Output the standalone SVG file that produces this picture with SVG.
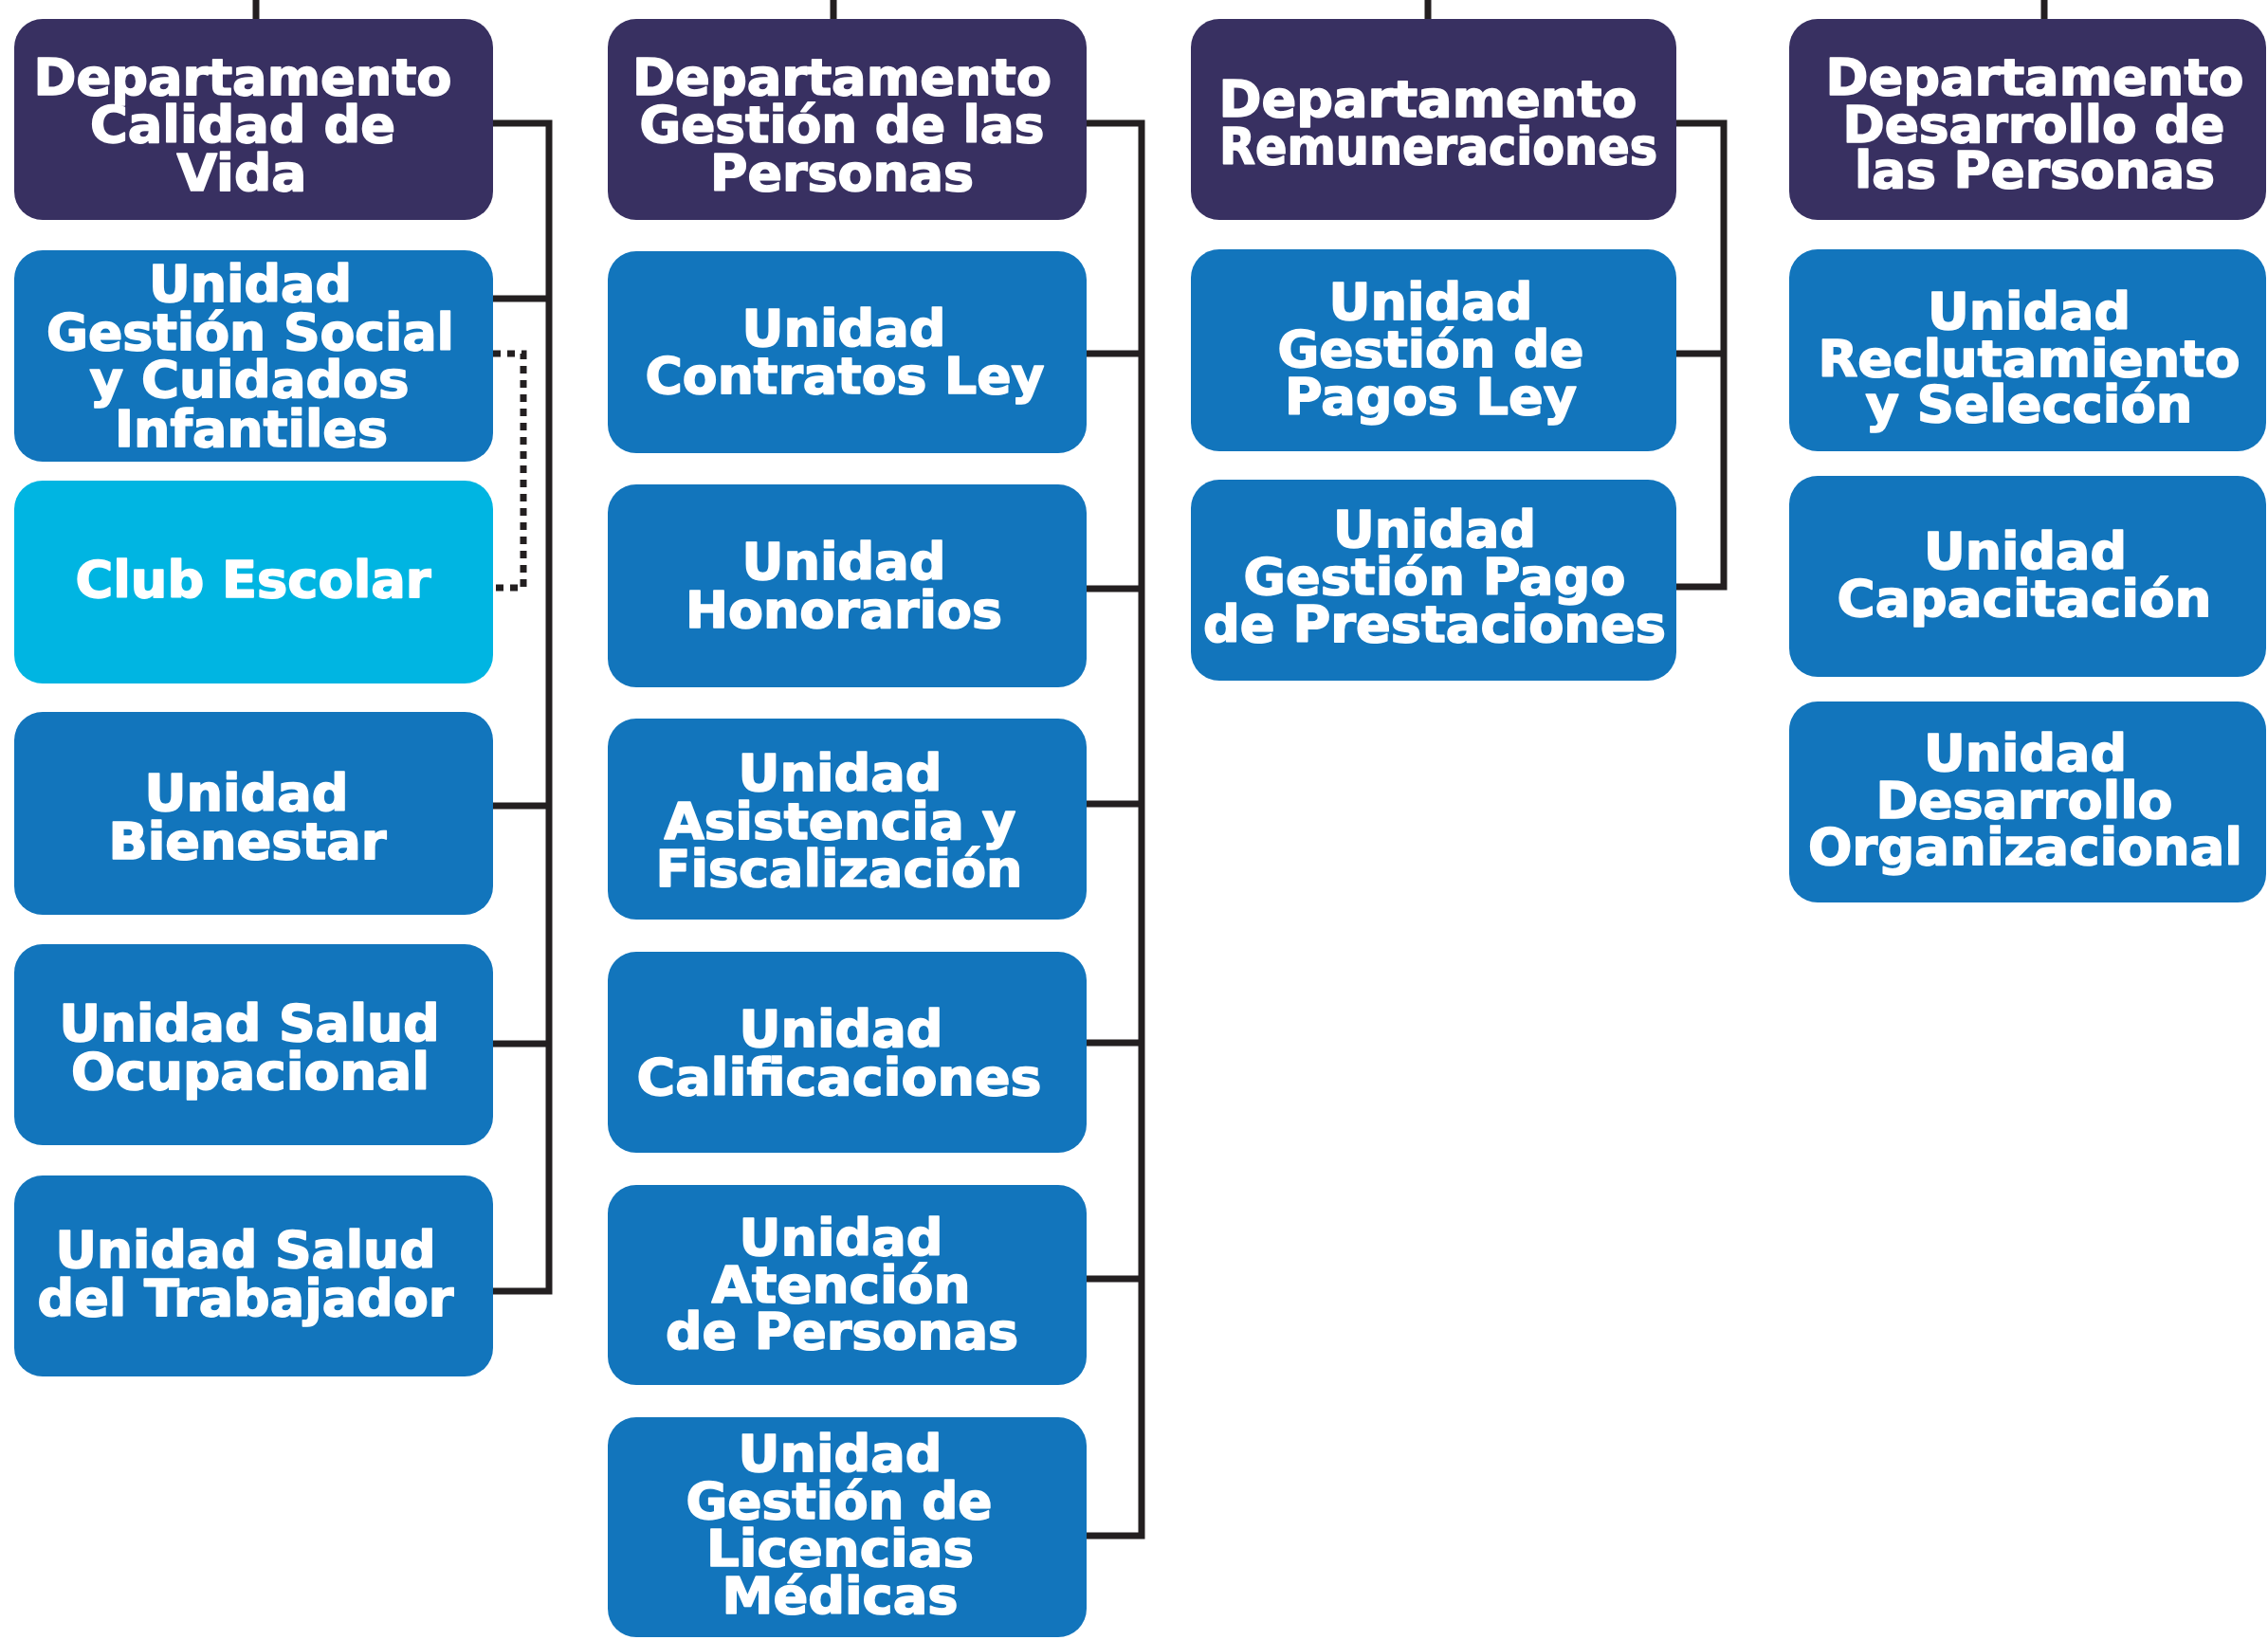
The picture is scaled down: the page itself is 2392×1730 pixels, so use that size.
<svg xmlns="http://www.w3.org/2000/svg" width="2392" height="1730" viewBox="0 0 2392 1730">
<style>
.dept{fill:#383061}
.unit{fill:#1275bc}
.club{fill:#00b5e2}
text{font-family:"DejaVu Sans","Liberation Sans",sans-serif;font-weight:bold;font-size:53px;fill:#ffffff;stroke:#ffffff;stroke-width:1.6;stroke-linejoin:round;text-anchor:middle}
.ln{fill:none;stroke:#231f20;stroke-width:7}
.dot{fill:none;stroke:#231f20;stroke-width:7;stroke-dasharray:8 7}
</style>
<rect width="2392" height="1730" fill="#ffffff"/>
<g id="connectors">
<path class="ln" d="M270,0 V20 M879,0 V20 M1506,0 V20 M2156,0 V20"/>
<path class="ln" d="M520,130 H579 V1362 H520 M520,315 H579 M520,850 H579 M520,1101 H579"/>
<path class="dot" d="M520,373 H552 V620 H520"/>
<path class="ln" d="M1146,130 H1204 V1620 H1146 M1146,373 H1204 M1146,621 H1204 M1146,848 H1204 M1146,1100 H1204 M1146,1349 H1204"/>
<path class="ln" d="M1768,130 H1818 V619 H1768 M1768,373 H1818"/>
</g>
<g id="dept-calidad-vida"><rect class="dept" x="15" y="20" width="505" height="212" rx="30"/>
<text x="256" y="100" textLength="441" lengthAdjust="spacingAndGlyphs">Departamento</text>
<text x="256" y="150" textLength="322" lengthAdjust="spacingAndGlyphs">Calidad de</text>
<text x="255" y="201" textLength="137" lengthAdjust="spacingAndGlyphs">Vida</text></g>
<g id="u-gestion-social"><rect class="unit" x="15" y="264" width="505" height="223" rx="30"/>
<text x="264" y="318" textLength="214" lengthAdjust="spacingAndGlyphs">Unidad</text>
<text x="264" y="369" textLength="430" lengthAdjust="spacingAndGlyphs">Gestión Social</text>
<text x="263" y="419" textLength="337" lengthAdjust="spacingAndGlyphs">y Cuidados</text>
<text x="265" y="471" textLength="288" lengthAdjust="spacingAndGlyphs">Infantiles</text></g>
<g id="club-escolar"><rect class="club" x="15" y="507" width="505" height="214" rx="30"/>
<text x="267" y="630" textLength="375" lengthAdjust="spacingAndGlyphs">Club Escolar</text></g>
<g id="u-bienestar"><rect class="unit" x="15" y="751" width="505" height="214" rx="30"/>
<text x="260" y="855" textLength="215" lengthAdjust="spacingAndGlyphs">Unidad</text>
<text x="261" y="906" textLength="293" lengthAdjust="spacingAndGlyphs">Bienestar</text></g>
<g id="u-salud-ocupacional"><rect class="unit" x="15" y="996" width="505" height="212" rx="30"/>
<text x="263" y="1098" textLength="401" lengthAdjust="spacingAndGlyphs">Unidad Salud</text>
<text x="264" y="1149" textLength="378" lengthAdjust="spacingAndGlyphs">Ocupacional</text></g>
<g id="u-salud-trabajador"><rect class="unit" x="15" y="1240" width="505" height="212" rx="30"/>
<text x="259" y="1337" textLength="401" lengthAdjust="spacingAndGlyphs">Unidad Salud</text>
<text x="259" y="1388" textLength="439" lengthAdjust="spacingAndGlyphs">del Trabajador</text></g>
<g id="dept-gestion-personas"><rect class="dept" x="641" y="20" width="505" height="212" rx="30"/>
<text x="888" y="100" textLength="442" lengthAdjust="spacingAndGlyphs">Departamento</text>
<text x="888" y="150" textLength="427" lengthAdjust="spacingAndGlyphs">Gestión de las</text>
<text x="888" y="201" textLength="278" lengthAdjust="spacingAndGlyphs">Personas</text></g>
<g id="u-contratos-ley"><rect class="unit" x="641" y="265" width="505" height="213" rx="30"/>
<text x="890" y="365" textLength="215" lengthAdjust="spacingAndGlyphs">Unidad</text>
<text x="891" y="415" textLength="421" lengthAdjust="spacingAndGlyphs">Contratos Ley</text></g>
<g id="u-honorarios"><rect class="unit" x="641" y="511" width="505" height="214" rx="30"/>
<text x="890" y="611" textLength="215" lengthAdjust="spacingAndGlyphs">Unidad</text>
<text x="890" y="662" textLength="334" lengthAdjust="spacingAndGlyphs">Honorarios</text></g>
<g id="u-asistencia"><rect class="unit" x="641" y="758" width="505" height="212" rx="30"/>
<text x="886" y="834" textLength="215" lengthAdjust="spacingAndGlyphs">Unidad</text>
<text x="886" y="885" textLength="371" lengthAdjust="spacingAndGlyphs">Asistencia y</text>
<text x="885" y="935" textLength="387" lengthAdjust="spacingAndGlyphs">Fiscalización</text></g>
<g id="u-calificaciones"><rect class="unit" x="641" y="1004" width="505" height="212" rx="30"/>
<text x="887" y="1104" textLength="215" lengthAdjust="spacingAndGlyphs">Unidad</text>
<text x="885" y="1155" textLength="427" lengthAdjust="spacingAndGlyphs">Calificaciones</text></g>
<g id="u-atencion"><rect class="unit" x="641" y="1250" width="505" height="211" rx="30"/>
<text x="887" y="1324" textLength="215" lengthAdjust="spacingAndGlyphs">Unidad</text>
<text x="887" y="1374" textLength="273" lengthAdjust="spacingAndGlyphs">Atención</text>
<text x="888" y="1423" textLength="372" lengthAdjust="spacingAndGlyphs">de Personas</text></g>
<g id="u-licencias"><rect class="unit" x="641" y="1495" width="505" height="232" rx="30"/>
<text x="886" y="1552" textLength="215" lengthAdjust="spacingAndGlyphs">Unidad</text>
<text x="885" y="1602" textLength="323" lengthAdjust="spacingAndGlyphs">Gestión de</text>
<text x="886" y="1652" textLength="282" lengthAdjust="spacingAndGlyphs">Licencias</text>
<text x="886" y="1702" textLength="249" lengthAdjust="spacingAndGlyphs">Médicas</text></g>
<g id="dept-remuneraciones"><rect class="dept" x="1256" y="20" width="512" height="212" rx="30"/>
<text x="1506" y="123" textLength="441" lengthAdjust="spacingAndGlyphs">Departamento</text>
<text x="1517" y="173" textLength="462" lengthAdjust="spacingAndGlyphs">Remuneraciones</text></g>
<g id="u-pagos-ley"><rect class="unit" x="1256" y="263" width="512" height="213" rx="30"/>
<text x="1509" y="337" textLength="215" lengthAdjust="spacingAndGlyphs">Unidad</text>
<text x="1509" y="387" textLength="323" lengthAdjust="spacingAndGlyphs">Gestión de</text>
<text x="1509" y="437" textLength="308" lengthAdjust="spacingAndGlyphs">Pagos Ley</text></g>
<g id="u-pago-prestaciones"><rect class="unit" x="1256" y="506" width="512" height="212" rx="30"/>
<text x="1513" y="577" textLength="214" lengthAdjust="spacingAndGlyphs">Unidad</text>
<text x="1513" y="627" textLength="403" lengthAdjust="spacingAndGlyphs">Gestión Pago</text>
<text x="1513" y="677" textLength="488" lengthAdjust="spacingAndGlyphs">de Prestaciones</text></g>
<g id="dept-desarrollo-personas"><rect class="dept" x="1887" y="20" width="503" height="212" rx="30"/>
<text x="2146" y="100" textLength="441" lengthAdjust="spacingAndGlyphs">Departamento</text>
<text x="2145" y="150" textLength="403" lengthAdjust="spacingAndGlyphs">Desarrollo de</text>
<text x="2146" y="198" textLength="380" lengthAdjust="spacingAndGlyphs">las Personas</text></g>
<g id="u-reclutamiento"><rect class="unit" x="1887" y="263" width="503" height="213" rx="30"/>
<text x="2140" y="347" textLength="214" lengthAdjust="spacingAndGlyphs">Unidad</text>
<text x="2140" y="397" textLength="445" lengthAdjust="spacingAndGlyphs">Reclutamiento</text>
<text x="2140" y="445" textLength="345" lengthAdjust="spacingAndGlyphs">y Selección</text></g>
<g id="u-capacitacion"><rect class="unit" x="1887" y="502" width="503" height="212" rx="30"/>
<text x="2136" y="600" textLength="214" lengthAdjust="spacingAndGlyphs">Unidad</text>
<text x="2135" y="650" textLength="395" lengthAdjust="spacingAndGlyphs">Capacitación</text></g>
<g id="u-desarrollo-org"><rect class="unit" x="1887" y="740" width="503" height="212" rx="30"/>
<text x="2136" y="813" textLength="214" lengthAdjust="spacingAndGlyphs">Unidad</text>
<text x="2135" y="863" textLength="313" lengthAdjust="spacingAndGlyphs">Desarrollo</text>
<text x="2136" y="912" textLength="458" lengthAdjust="spacingAndGlyphs">Organizacional</text></g>
</svg>
